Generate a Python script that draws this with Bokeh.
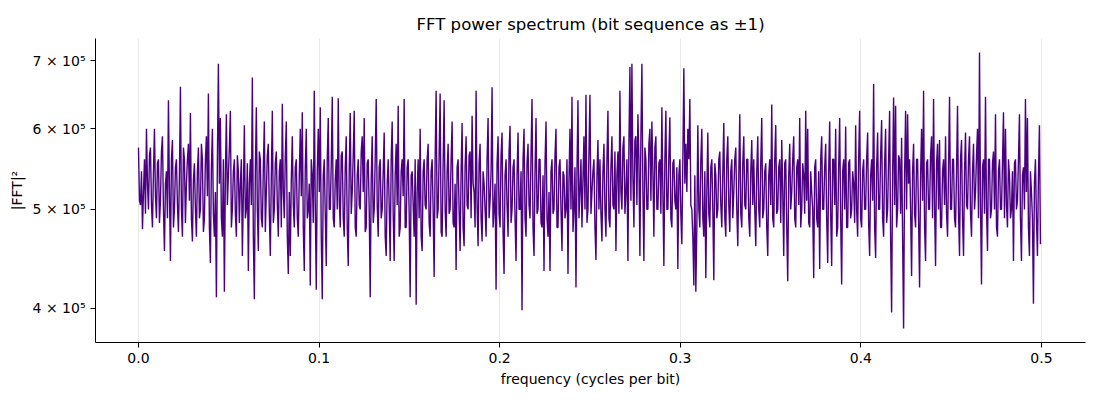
import numpy as np
from bokeh.plotting import figure
from bokeh.models import Range1d, FixedTicker
from bokeh.embed import file_html
from bokeh.resources import INLINE

# |FFT|^2 values, in thousands, low to high frequency.
# "even" lists hold bins 0, 2, 4, ... ; "odd" lists hold bins 1, 3, 5, ...
seg1_even = [575,505,478,560,600,500,575,480,600,490,560,510,590,455,545,640,445,585,500,560,
             475,660,470,560,530,580,622,465,555,470,575,500,560,490,590,650,443,600,470,410,
             695,615,470,415,620,540,625,500,560,470,545,530,450,605,500,435,560,674,408,630,
             455,560,480,610,520,580,450,625,500,570,470,560,635,490,610,432]
seg1_odd = [510,545,520,495,530,565,505,545,515,555,485,570,500,530,490,520,560,480,550,505,
            540,500,575,485,560,510,490,535,500,545,490,580,475,560,515,480,550,495,520,560,
            530,490,560,540,505,575,480,545,495,565,485,560,520,490,555,530,505,470,545,500,
            570,490,550,475,565,495,540,485,555,505,545,480,520,565,470,520]
seg2_even = [450,590,480,560,470,600,623,435,600,500,421,540,654,417,600,630,408,560,440,615,
             500,645,480,560,643,480,570,470,590,440,622,520,625,470,560,500,590,615,480,560,
             410,590,500,642,470,560,500,595,450,560,445,610,445,580,632,480,560,642,480,560,
             410,545,470,403,560,600,455,560,500,580,470,560,429,654,500,650,470,640]
seg2_odd = [535,505,550,490,540,515,480,550,490,530,560,485,505,545,520,470,540,495,560,500,
            555,490,535,500,510,565,490,550,480,545,495,565,480,540,505,570,520,475,555,500,
            535,485,560,505,550,490,545,470,530,505,560,495,540,505,470,545,515,480,550,495,
            540,505,560,520,490,470,545,505,560,485,545,500,560,490,565,475,555,500]
seg3_even = [470,580,500,610,480,436,560,455,608,460,590,500,570,618,520,654,460,580,465,530,
             470,615,510,659,500,417,590,480,595,432,560,470,604,500,560,445,595,500,398,600,
             470,580,490,642,450,615,500,560,480,435,610,470,435,560,500,600,480,560,455,540,
             500,432,600,645,500,419,640,520,480,590,648,500,648,520,560,446,585]
seg3_odd = [545,495,560,485,530,550,500,545,480,550,505,565,490,530,480,505,555,490,545,500,
            560,490,545,480,530,555,495,565,475,540,505,570,485,550,490,540,500,545,560,490,
            555,505,565,480,545,495,560,485,540,555,490,520,545,495,565,480,550,500,545,490,
            560,535,500,475,550,545,490,560,535,500,485,570,495,545,480,540,500]
seg4_even = [560,465,580,470,625,480,590,500,455,570,654,500,590,520,445,690,695,480,590,620,
             450,695,445,560,500,600,610,470,590,500,560,630,440,625,500,616,480,560,500,437,
             560,462,688,580,600,642,500,421,415,605,480,600,470,428,595,480,560,426,540,500,
             570,480,608,470,590,475,560,520,575,460,620,480,590,500,560,470,585,560]
seg4_odd = [495,545,500,560,490,550,505,570,540,495,520,575,495,560,580,510,540,585,505,560,
            590,520,575,500,580,510,545,575,500,555,495,520,560,500,565,490,555,510,550,540,
            495,560,530,520,560,505,470,540,480,500,560,490,545,520,495,550,500,555,490,560,
            505,545,490,560,505,545,490,560,500,540,495,555,505,560,490,545,505,500]
seg5_even = [460,590,480,615,500,555,450,560,634,480,605,500,560,585,450,560,425,580,520,590,
             480,560,615,500,540,625,600,480,520,428,560,480,437,590,500,580,443,610,440,560,
             600,480,615,422,560,603,480,560,500,530,605,470,625,480,560,500,595,450,560,664,
             448,595,500,612,470,600,500,625,396,644,632,500,560,588,382,625,620]
seg5_odd = [545,500,555,490,545,480,540,505,490,560,495,550,485,520,555,480,540,500,560,490,
            550,505,480,555,495,510,485,545,500,550,490,545,560,500,550,490,545,495,560,505,
            470,550,490,545,500,480,555,490,545,485,500,560,490,545,500,560,485,540,510,480,
            550,500,565,490,555,485,560,470,540,505,480,565,495,470,540,500,530]
seg6_even = [560,430,580,480,560,419,600,654,445,560,500,590,642,440,580,585,480,560,590,470,
             645,500,560,480,632,450,585,450,595,500,590,470,580,520,600,713,422,560,645,455,
             560,500,570,620,470,560,500,623,600,480,540,500,445,560,510,620,445,550,642,615,
             450,520,404,560,450,605]
seg6_odd = [500,545,495,560,490,540,510,480,555,500,565,490,505,555,500,480,545,505,495,550,
            500,560,490,545,495,560,490,545,505,560,495,545,500,565,490,505,550,495,500,560,
            490,555,500,480,545,500,555,490,505,560,490,545,555,500,560,490,540,500,520,480,
            545,490,530,490,540,462]

even_bins = seg1_even + seg2_even + seg3_even + seg4_even + seg5_even + seg6_even
odd_bins = seg1_odd + seg2_odd + seg3_odd + seg4_odd + seg5_odd + seg6_odd
power_k = [v for pair in zip(even_bins, odd_bins) for v in pair]

n_bins = len(power_k)
n_bits = 2 * n_bins
freq = np.arange(n_bins) / n_bits
power = np.array(power_k, dtype=float) * 1000.0

x_ticks = [0.0, 0.1, 0.2, 0.3, 0.4, 0.5]
y_ticks = [400000, 500000, 600000, 700000]
y_tick_labels = ["4 × 10⁵", "5 × 10⁵", "6 × 10⁵", "7 × 10⁵"]

FONT = "DejaVu Sans"

p = figure(width=1092, height=392, y_axis_type="log",
           output_backend="svg", toolbar_location=None,
           title="FFT power spectrum (bit sequence as ±1)",
           x_range=Range1d(-0.0238, 0.5244), y_range=Range1d(370e3, 736e3),
           min_border_left=95, min_border_right=7, min_border_top=38, min_border_bottom=50)

p.line(freq, power, line_color="#4b0082", line_width=1.4)

p.title.align = "center"
p.title.text_font = FONT
p.title.text_font_size = "16.6px"
p.title.text_font_style = "normal"
p.title.text_color = "black"

p.outline_line_color = None
p.background_fill_color = "white"
p.border_fill_color = "white"

p.xaxis.ticker = FixedTicker(ticks=x_ticks)
p.xaxis.major_label_overrides = {t: f"{t:.1f}" for t in x_ticks}
p.yaxis.ticker = FixedTicker(ticks=y_ticks, minor_ticks=[])
p.yaxis.major_label_overrides = {t: l for t, l in zip(y_ticks, y_tick_labels)}

for ax in (p.xaxis[0], p.yaxis[0]):
    ax.axis_line_color = "black"
    ax.axis_line_width = 1
    ax.major_tick_line_color = "black"
    ax.major_tick_out = 5
    ax.major_tick_in = 0
    ax.minor_tick_line_color = None
    ax.major_label_text_font = FONT
    ax.major_label_text_font_size = "14px"
    ax.major_label_text_color = "black"
    ax.axis_label_text_font = FONT
    ax.axis_label_text_font_size = "14px"
    ax.axis_label_text_font_style = "normal"
    ax.axis_label_text_color = "black"

p.xaxis.axis_label = "frequency (cycles per bit)"
p.yaxis.axis_label = "|FFT|²"

p.xgrid.ticker = FixedTicker(ticks=x_ticks)
p.xgrid.grid_line_color = "#e8e8e8"
p.xgrid.grid_line_width = 1
p.ygrid.grid_line_color = None

open("out.html", "w").write(file_html(p, INLINE))
